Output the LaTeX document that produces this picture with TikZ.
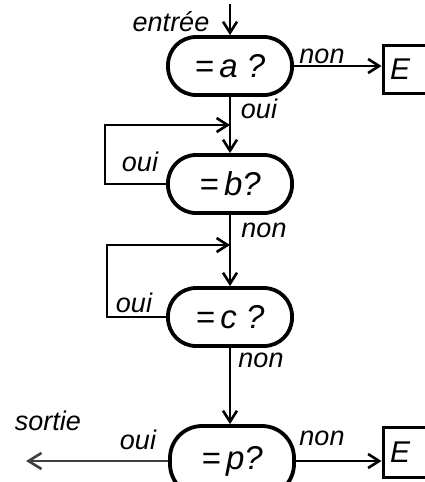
\documentclass[tikz,border=0pt]{standalone}
\usepackage{fontspec}
\setmainfont{Liberation Sans}
\usetikzlibrary{arrows.meta}
\begin{document}
\begin{tikzpicture}[x=1pt,y=-1pt,
  test/.style={draw,line width=3.8pt,rounded corners=28pt,minimum width=124pt,minimum height=58pt,font=\fontsize{33}{33}\selectfont\itshape,inner sep=0pt},
  ebox/.style={draw,line width=3pt,minimum width=46pt,minimum height=48pt,font=\fontsize{30}{30}\selectfont\itshape,inner sep=0pt},
  flow/.style={line width=2.9pt,-{Straight Barb[length=11pt,width=14pt,line width=2.6pt]}},
  lbl/.style={font=\fontsize{27}{27}\selectfont\itshape,inner sep=0pt}]
\useasboundingbox (0,0) rectangle (425,482);
\clip (0,0) rectangle (425,482);
% decision nodes
\node[test] (a) at (230,66) {=\,a ?};
\node[test] (b) at (230,184) {=\,b?};
\node[test] (c) at (230,317) {=\,c ?};
\node[test,minimum height=70pt,rounded corners=32pt] (p) at (232,461) {=\,p?};
% error boxes
\node[ebox,text width=40pt,align=left] (E1) at (406,69) {\hspace*{4pt}E};
\node[ebox,minimum height=50pt,text width=40pt,align=left] (E2) at (406,452) {\hspace*{4pt}E};
% coordinates
\coordinate (in) at (230,4);
\coordinate (out) at (26,461);
\coordinate (l1b) at (105,184);
\coordinate (l1t) at (105,125);
\coordinate (l2b) at (107,317);
\coordinate (l2t) at (107,245);
% connectors
\draw[flow] (in) -- (a.north);
\draw[flow] (a.east) -- (a.east -| E1.west);
\draw[flow] (a.south) -- (b.north);
\draw[flow] (b.south) -- (c.north);
\draw[flow] (c.south) -- (c.south |- p.north);
\draw[flow] (b.west) -- (l1b) -- (l1t) -- (l1t -| a.south);
\draw[flow] (c.west) -- (l2b) -- (l2t) -- (l2t -| a.south);
\draw[flow] (p.east) -- (p.east -| E2.west);
\draw[line width=1.5pt,black!75,-{Straight Barb[length=13pt,width=16pt,line width=2.6pt]}] (p.west) -- (out);
% labels
\node[lbl] (t1) at (171,22) {entrée};
\node[lbl] (t2) at (322,56) {non};
\node[lbl] (t3) at (259,109) {oui};
\node[lbl] (t4) at (140,162) {oui};
\node[lbl] (t5) at (264,230) {non};
\node[lbl] (t6) at (134,303) {oui};
\node[lbl] (t7) at (261,360) {non};
\node[lbl] (t8) at (48,421) {sortie};
\node[lbl] (t9) at (138,440) {oui};
\node[lbl] (t10) at (322,438) {non};
\end{tikzpicture}
\end{document}
